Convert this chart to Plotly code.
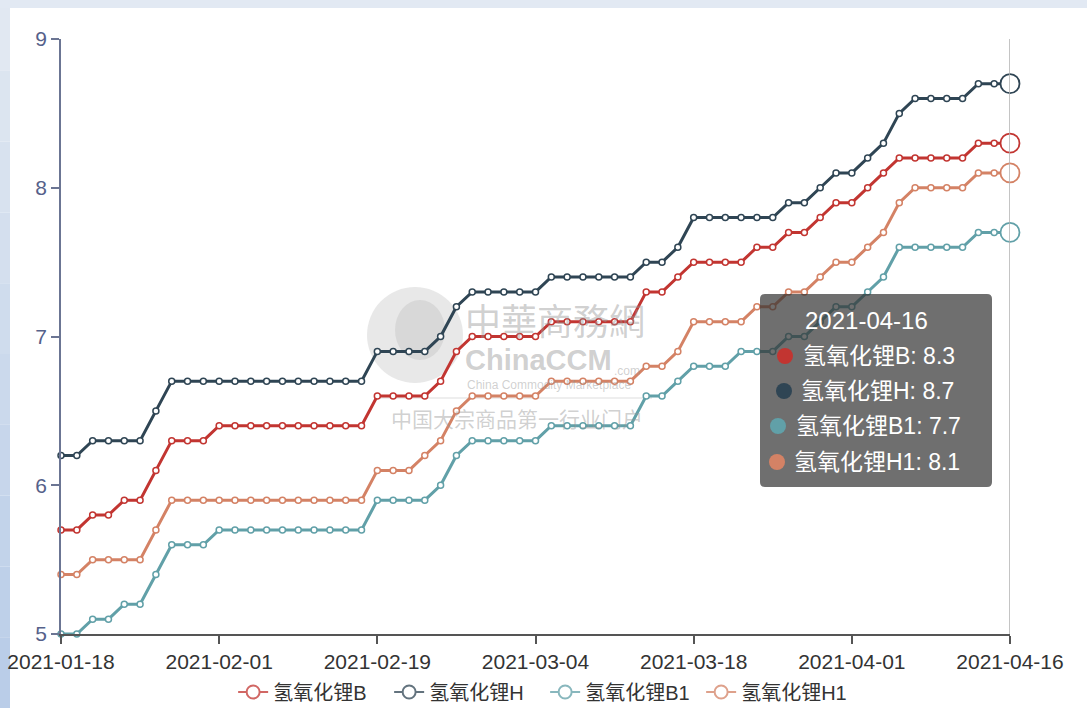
import plotly.graph_objects as go

dates = ["2021-01-18","2021-01-19","2021-01-20","2021-01-21","2021-01-22",
         "2021-01-25","2021-01-26","2021-01-27","2021-01-28","2021-01-29",
         "2021-02-01","2021-02-02","2021-02-03","2021-02-04","2021-02-05",
         "2021-02-07","2021-02-08","2021-02-09","2021-02-10","2021-02-18",
         "2021-02-19","2021-02-20","2021-02-22","2021-02-23","2021-02-24",
         "2021-02-25","2021-02-26","2021-03-01","2021-03-02","2021-03-03",
         "2021-03-04","2021-03-05","2021-03-08","2021-03-09","2021-03-10",
         "2021-03-11","2021-03-12","2021-03-15","2021-03-16","2021-03-17",
         "2021-03-18","2021-03-19","2021-03-22","2021-03-23","2021-03-24",
         "2021-03-25","2021-03-26","2021-03-29","2021-03-30","2021-03-31",
         "2021-04-01","2021-04-02","2021-04-06","2021-04-07","2021-04-08",
         "2021-04-09","2021-04-12","2021-04-13","2021-04-14","2021-04-15",
         "2021-04-16"]

lioh_B = [5.7,5.7,5.8,5.8,5.9,5.9,6.1,6.3,6.3,6.3,
          6.4,6.4,6.4,6.4,6.4,6.4,6.4,6.4,6.4,6.4,
          6.6,6.6,6.6,6.6,6.7,6.9,7.0,7.0,7.0,7.0,
          7.0,7.1,7.1,7.1,7.1,7.1,7.1,7.3,7.3,7.4,
          7.5,7.5,7.5,7.5,7.6,7.6,7.7,7.7,7.8,7.9,
          7.9,8.0,8.1,8.2,8.2,8.2,8.2,8.2,8.3,8.3,
          8.3]
lioh_H = [6.2,6.2,6.3,6.3,6.3,6.3,6.5,6.7,6.7,6.7,
          6.7,6.7,6.7,6.7,6.7,6.7,6.7,6.7,6.7,6.7,
          6.9,6.9,6.9,6.9,7.0,7.2,7.3,7.3,7.3,7.3,
          7.3,7.4,7.4,7.4,7.4,7.4,7.4,7.5,7.5,7.6,
          7.8,7.8,7.8,7.8,7.8,7.8,7.9,7.9,8.0,8.1,
          8.1,8.2,8.3,8.5,8.6,8.6,8.6,8.6,8.7,8.7,
          8.7]
lioh_B1 = [5.0,5.0,5.1,5.1,5.2,5.2,5.4,5.6,5.6,5.6,
           5.7,5.7,5.7,5.7,5.7,5.7,5.7,5.7,5.7,5.7,
           5.9,5.9,5.9,5.9,6.0,6.2,6.3,6.3,6.3,6.3,
           6.3,6.4,6.4,6.4,6.4,6.4,6.4,6.6,6.6,6.7,
           6.8,6.8,6.8,6.9,6.9,6.9,7.0,7.0,7.1,7.2,
           7.2,7.3,7.4,7.6,7.6,7.6,7.6,7.6,7.7,7.7,
           7.7]
lioh_H1 = [5.4,5.4,5.5,5.5,5.5,5.5,5.7,5.9,5.9,5.9,
           5.9,5.9,5.9,5.9,5.9,5.9,5.9,5.9,5.9,5.9,
           6.1,6.1,6.1,6.2,6.3,6.5,6.6,6.6,6.6,6.6,
           6.6,6.7,6.7,6.7,6.7,6.7,6.7,6.8,6.8,6.9,
           7.1,7.1,7.1,7.1,7.2,7.2,7.3,7.3,7.4,7.5,
           7.5,7.6,7.7,7.9,8.0,8.0,8.0,8.0,8.1,8.1,
           8.1]

series_names = ["氢氧化锂B", "氢氧化锂H", "氢氧化锂B1", "氢氧化锂H1"]
series_vals = [lioh_B, lioh_H, lioh_B1, lioh_H1]
colors = ["#c23531", "#2f4554", "#61a0a8", "#d48265"]
tick_dates = dates[::10]

FONT = "Liberation Sans, Noto Sans CJK SC, sans-serif"
W, H = 1087, 708
L, R, T, B = 61, 77, 39, 74
PW, PH = W - L - R, H - T - B


def px(x):
    return (x - L) / PW


def py(y):
    return (H - B - y) / PH


fig = go.Figure()

for name, vals, c in zip(series_names, series_vals, colors):
    fig.add_trace(go.Scatter(
        x=dates, y=vals, mode="lines+markers", name=name, showlegend=False,
        line=dict(color=c, width=3),
        marker=dict(symbol="circle", size=6, color="white",
                    line=dict(color=c, width=1.5)),
        cliponaxis=False, hoverinfo="skip"))

# emphasized last points (hover state)
fig.add_trace(go.Scatter(
    x=[dates[-1]] * 4, y=[v[-1] for v in series_vals], mode="markers", showlegend=False,
    marker=dict(symbol="circle", size=19, color="white",
                line=dict(color=colors, width=1.8)),
    cliponaxis=False, hoverinfo="skip"))

# legend entries
for name, c in zip(series_names, colors):
    fig.add_trace(go.Scatter(
        x=[None], y=[None], mode="lines+markers", name=name, opacity=0.75,
        line=dict(color=c, width=2),
        marker=dict(symbol="circle", size=13, color="white", line=dict(color=c, width=2))))

shapes = []
# page border strips
top_c = (225, 232, 242)
bot_c = (186, 205, 232)
nb = 10
for i in range(nb):
    t = i / (nb - 1)
    col = "rgb(%d,%d,%d)" % tuple(int(top_c[k] + (bot_c[k] - top_c[k]) * t) for k in range(3))
    y0 = H * i / nb
    y1 = H * (i + 1) / nb
    shapes.append(dict(type="rect", xref="paper", yref="paper", x0=px(0), x1=px(10),
                       y0=py(y1), y1=py(y0), fillcolor=col, line=dict(width=0), layer="below"))
shapes.append(dict(type="rect", xref="paper", yref="paper", x0=px(0), x1=px(W),
                   y0=py(8), y1=py(0), fillcolor="rgb(226,233,243)", line=dict(width=0), layer="below"))

# watermark globe
shapes.append(dict(type="circle", xref="paper", yref="paper",
                   x0=px(367), x1=px(463), y0=py(383), y1=py(287),
                   fillcolor="rgba(205,205,205,0.45)", line=dict(width=0), layer="below"))
shapes.append(dict(type="circle", xref="paper", yref="paper",
                   x0=px(395), x1=px(445), y0=py(360), y1=py(300),
                   fillcolor="rgba(185,185,185,0.35)", line=dict(width=0), layer="below"))
shapes.append(dict(type="line", xref="paper", yref="paper",
                   x0=px(380), x1=px(652), y0=py(398), y1=py(398),
                   line=dict(color="rgba(190,190,190,0.5)", width=1), layer="below"))

# axis pointer (drawn above the series, like the original)
shapes.append(dict(type="line", xref="x", yref="paper", x0=dates[-1], x1=dates[-1],
                   y0=0, y1=1, line=dict(color="#b0b0b0", width=1.5), layer="above"))

# tooltip box with rounded corners
bx0, bx1, by0, by1 = 760, 992, 294, 487
r = 5
rx, ry = r / PW, r / PH
X0, X1, Y0, Y1 = px(bx0), px(bx1), py(by1), py(by0)
path = (f"M {X0+rx},{Y1} L {X1-rx},{Y1} Q {X1},{Y1} {X1},{Y1-ry} "
        f"L {X1},{Y0+ry} Q {X1},{Y0} {X1-rx},{Y0} L {X0+rx},{Y0} "
        f"Q {X0},{Y0} {X0},{Y0+ry} L {X0},{Y1-ry} Q {X0},{Y1} {X0+rx},{Y1} Z")
shapes.append(dict(type="path", xref="paper", yref="paper", path=path,
                   fillcolor="rgba(50,50,50,0.7)", line=dict(width=0), layer="above"))

row_y = [356, 391, 426, 462]
dot_x = [785, 784, 778, 777]
text_x = [801, 799, 794, 792]
for c, dx, dy in zip(colors, dot_x, row_y):
    shapes.append(dict(type="circle", xref="paper", yref="paper",
                       xsizemode="pixel", ysizemode="pixel",
                       xanchor=px(dx), yanchor=py(dy), x0=-8, x1=8, y0=-8, y1=8,
                       fillcolor=c, line=dict(width=0), layer="above"))

annotations = []
wm = "rgba(150,150,150,0.45)"


def ann(text, x, y, xa="center", size=21, family=FONT, color=wm):
    return dict(text=text, x=px(x), y=py(y), xref="paper", yref="paper",
                xanchor=xa, yanchor="middle", showarrow=False,
                font=dict(family=family, size=size, color=color))


annotations += [
    ann("中華商務網", 555, 319, size=36, family="Noto Sans CJK TC"),
    ann("<b>ChinaCCM</b>", 463, 360, xa="left", size=29),
    ann(".com", 612, 371, xa="left", size=12),
    ann("China Commodity Marketplace", 465, 385, xa="left", size=12),
    ann("中国大宗商品第一行业门户", 517, 418, size=21, family="Noto Sans CJK SC"),
]

annotations.append(ann(dates[-1], 866, 320, size=24, color="white"))
for name, vals, tx, ty in zip(series_names, series_vals, text_x, row_y):
    annotations.append(ann(f"{name}: {vals[-1]}", tx, ty, xa="left", size=23, color="white"))

fig.update_layout(
    width=W, height=H,
    margin=dict(l=L, r=R, t=T, b=B, autoexpand=False),
    paper_bgcolor="white", plot_bgcolor="white",
    font=dict(family=FONT, size=21, color="#333"),
    hovermode=False,
    showlegend=True,
    legend=dict(orientation="h", xref="container", yref="container",
                x=0.5015, y=1 - 692 / H, xanchor="center", yanchor="middle",
                font=dict(family=FONT, size=20, color="#333"),
                bgcolor="rgba(0,0,0,0)", itemwidth=30, tracegroupgap=0,
                entrywidth=111, entrywidthmode="pixels"),
    xaxis=dict(type="category", range=[0, len(dates) - 1],
               tickmode="array", tickvals=tick_dates, ticktext=tick_dates,
               showline=True, linecolor="#555", linewidth=1.5,
               ticks="outside", ticklen=8, tickcolor="#555", tickwidth=1.5,
               tickfont=dict(size=21, color="#333"), showgrid=False, zeroline=False),
    yaxis=dict(range=[5, 9], tickmode="array", tickvals=[5, 6, 7, 8, 9],
               showline=True, linecolor="#6b7593", linewidth=1.5,
               ticks="outside", ticklen=8, tickcolor="#6b7593", tickwidth=1.5,
               tickfont=dict(size=21, color="#56618a"), showgrid=False, zeroline=False),
    shapes=shapes, annotations=annotations,
)

fig.write_html("out.html", config={"displayModeBar": False},
               post_script="document.body.style.margin='0';document.body.style.padding='0';")
